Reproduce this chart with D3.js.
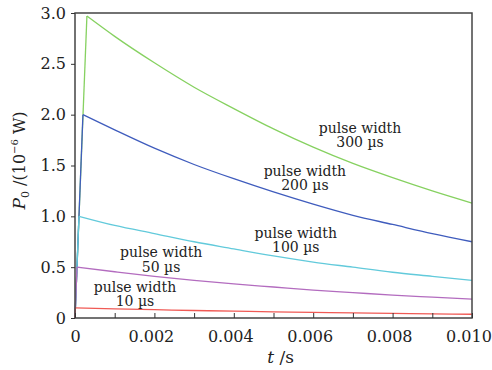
<!DOCTYPE html>
<html>
<head>
<meta charset="utf-8">
<script src="https://cdn.jsdelivr.net/npm/d3@7"></script>
<style>
  body { margin: 0; background: #fff; }
  text { font-family: "DejaVu Serif", serif; fill: #222; }
</style>
</head>
<body>
<div id="chart"></div>
<script>
var tDecay = [0.001, 0.002, 0.003, 0.004, 0.005, 0.006, 0.007, 0.008, 0.009, 0.010];

var pulseWidths = [300, 200, 100, 50, 10];          // µs
var peakTimes = [0.0003, 0.0002, 0.0001, 0.00005, 0.00001];
var peakValues = [2.97, 2.0, 1.0, 0.5, 0.1];

var decay300 = [2.77, 2.51, 2.27, 2.06, 1.86, 1.68, 1.52, 1.38, 1.25, 1.13];
var decay200 = [1.85, 1.67, 1.51, 1.37, 1.24, 1.12, 1.01, 0.92, 0.83, 0.75];
var decay100 = [0.91, 0.83, 0.75, 0.68, 0.61, 0.55, 0.50, 0.45, 0.41, 0.37];
var decay50  = [0.455, 0.41, 0.37, 0.335, 0.305, 0.275, 0.25, 0.225, 0.205, 0.185];
var decay10  = [0.09, 0.082, 0.074, 0.067, 0.061, 0.055, 0.05, 0.045, 0.041, 0.037];

var decays = [decay300, decay200, decay100, decay50, decay10];
var colors = ["#86d160", "#3f5cbd", "#62cadb", "#b36cbf", "#f05a55"];

var xTicks = [0, 0.001, 0.002, 0.003, 0.004, 0.005, 0.006, 0.007, 0.008, 0.009, 0.010];
var xTickLabels = ["0", "", "0.002", "", "0.004", "", "0.006", "", "0.008", "", "0.010"];
var yTicks = [0, 0.5, 1.0, 1.5, 2.0, 2.5, 3.0];
var yTickLabels = ["0", "0.5", "1.0", "1.5", "2.0", "2.5", "3.0"];

// label positions (plot units) for the "pulse width" notes
var noteX = [0.00718, 0.00579, 0.00556, 0.00217, 0.00151];
var noteY = [1.82, 1.40, 0.79, 0.60, 0.26];

var margin = {top: 13, right: 20, bottom: 52, left: 75},
    width = 492 - margin.left - margin.right,
    height = 370 - margin.top - margin.bottom;

var svg = d3.select("#chart")
  .append("svg")
    .attr("width", 492)
    .attr("height", 370)
  .append("g")
    .attr("transform", "translate(" + margin.left + "," + margin.top + ")");

var x = d3.scaleLinear().domain([0, 0.010]).range([0, width]);
var y = d3.scaleLinear().domain([0, 3.0]).range([height, 0]);

// curves
var rise = d3.line().x(function(d) { return x(d[0]); }).y(function(d) { return y(d[1]); });
var fall = d3.line().x(function(d) { return x(d[0]); }).y(function(d) { return y(d[1]); })
  .curve(d3.curveMonotoneX);

pulseWidths.forEach(function(pw, i) {
  var up = [[0, 0], [peakTimes[i], peakValues[i]]];
  var down = [[peakTimes[i], peakValues[i]]].concat(tDecay.map(function(t, j) { return [t, decays[i][j]]; }));
  svg.append("path").attr("d", rise(up))
    .attr("fill", "none").attr("stroke", colors[i]).attr("stroke-width", 1.3);
  svg.append("path").attr("d", fall(down))
    .attr("fill", "none").attr("stroke", colors[i]).attr("stroke-width", 1.3);
});

// frame
svg.append("rect")
  .attr("width", width).attr("height", height)
  .attr("fill", "none").attr("stroke", "#444").attr("stroke-width", 1.5);

// x axis: ticks pointing inward
var xAxis = svg.append("g")
  .attr("transform", "translate(0," + height + ")")
  .call(d3.axisBottom(x).tickValues(xTicks).tickSizeInner(-5).tickSizeOuter(0)
    .tickPadding(13).tickFormat(function(d, i) { return xTickLabels[i]; }));
xAxis.select(".domain").remove();
xAxis.selectAll("line").attr("stroke", "#333");
xAxis.selectAll("text")
  .attr("dx", function(d) { return d === 0 ? 0 : -3.5; })
  .style("font-family", "DejaVu Serif").style("font-size", "16px").attr("fill", "#222");

// y axis: ticks pointing outward
var yAxis = svg.append("g")
  .call(d3.axisLeft(y).tickValues(yTicks).tickSize(4).tickPadding(5)
    .tickFormat(function(d, i) { return yTickLabels[i]; }));
yAxis.select(".domain").remove();
yAxis.selectAll("line").attr("stroke", "#333");
yAxis.selectAll("text").style("font-family", "DejaVu Serif").style("font-size", "16px").attr("fill", "#222");

// axis titles
var xt = svg.append("text")
  .attr("x", x(0.00518)).attr("y", height + 45)
  .attr("text-anchor", "middle")
  .style("font-size", "17px");
xt.append("tspan").style("font-style", "italic").text("t");
xt.append("tspan").text(" /s");

var yt = svg.append("text")
  .attr("transform", "translate(" + (-50) + "," + y(1.55) + ") rotate(-90)")
  .attr("text-anchor", "middle")
  .style("font-size", "16px");
yt.append("tspan").style("font-style", "italic").style("font-size", "17px").text("P");
yt.append("tspan").attr("dy", 4).style("font-size", "11px").text("0");
yt.append("tspan").attr("dy", -4).text(" /(10");
yt.append("tspan").attr("dy", -7).style("font-size", "10px").text("\u22126");
yt.append("tspan").attr("dy", 7).text(" W)");

// notes
var notes = svg.selectAll(".note")
  .data(pulseWidths).enter()
  .append("text")
    .attr("class", "note")
    .attr("text-anchor", "middle")
    .style("font-size", "14px");

notes.append("tspan")
  .attr("x", function(d, i) { return x(noteX[i]); })
  .attr("y", function(d, i) { return y(noteY[i]); })
  .text("pulse width");
notes.append("tspan")
  .attr("x", function(d, i) { return x(noteX[i]); })
  .attr("dy", 14.5)
  .text(function(d) { return d + " \u00b5s"; });
</script>
</body>
</html>
